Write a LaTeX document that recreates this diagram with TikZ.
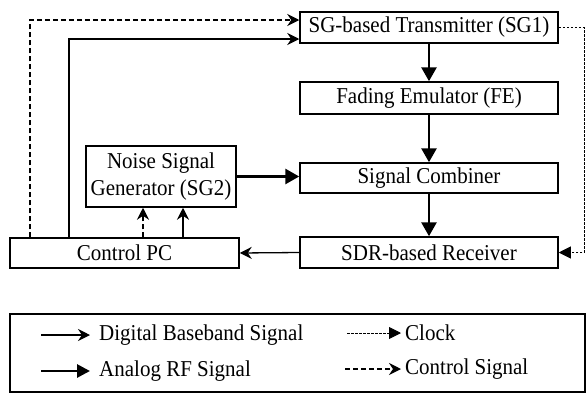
\documentclass[tikz,border=0pt]{standalone}
\usepackage{fontspec}
\usepackage{graphicx}
\setmainfont{Liberation Serif}
\usetikzlibrary{arrows.meta,calc}
% text set slightly taller than the font's natural proportions
\newcommand\tallt[1]{\scalebox{1}[1.08]{#1}}
\begin{document}
\begin{tikzpicture}[x=1pt,y=-1pt,
  font=\fontsize{21}{25.5}\selectfont,
  block/.style={draw,line width=1.5pt,inner sep=0pt,align=center},
  dig/.style={line width=1.3pt,-{Stealth[length=12pt,width=12pt,inset=4pt]}},
  rf/.style={line width=2.8pt,-{Triangle[length=14pt,width=15pt]}},
  ctrl/.style={line width=1.3pt,dash pattern=on 5pt off 3pt,-{Stealth[length=12pt,width=12pt,inset=4pt]}},
  clk/.style={line width=0.9pt,dash pattern=on 2.5pt off 1.5pt,-{Triangle[length=12pt,width=12pt]}},
  legtext/.style={anchor=west,inner sep=0pt}]
\useasboundingbox (0,0) rectangle (586,394);

% signal chain
\node[block,minimum width=258pt,minimum height=31pt] (sg1) at (429,27.5) {\tallt{SG-based Transmitter (SG1)}};
\node[block,minimum width=258pt,minimum height=32pt] (fe)  at (429,98) {\tallt{Fading Emulator (FE)}};
\node[block,minimum width=258pt,minimum height=30pt] (sc)  at (429,178) {\tallt{Signal Combiner}};
\node[block,minimum width=258pt,minimum height=31pt] (rx)  at (429,252.5) {\tallt{SDR-based Receiver}};

% noise source and controller
\node[block,minimum width=150pt,minimum height=61pt] (nsg) at (161,176.5)
  {\tallt{\begin{tabular}{@{}c@{}}Noise Signal\\Generator (SG2)\end{tabular}}};
\node[block,minimum width=229pt,minimum height=30pt] (pc)  at (124.5,253) {\tallt{Control PC}};

% RF path
\draw[rf] (sg1) -- (fe);
\draw[rf] (fe) -- (sc);
\draw[rf] (sc) -- (rx);
\draw[rf] (nsg.east) -- (nsg.east -| sc.west);

% baseband and control links
\draw[dig] (rx.west) -- (pc.east);
\coordinate (ctrlturn) at (30,20);
\coordinate (digturn) at (69,39);
\draw[ctrl] (pc.north -| ctrlturn) -- (ctrlturn) -- (sg1.west |- ctrlturn);
\draw[dig] (pc.north -| digturn) -- (digturn) -- (sg1.west |- digturn);
\coordinate (nsgctrl) at ($(nsg.south)+(-18,0)$);
\coordinate (nsgdig) at ($(nsg.south)+(22,0)$);
\draw[ctrl] (pc.north -| nsgctrl) -- (nsgctrl);
\draw[dig] (pc.north -| nsgdig) -- (nsgdig);

% reference clock
\coordinate (clkturn) at (584,28);
\draw[clk] (sg1.east) -- (sg1.east -| clkturn) -- (rx.east -| clkturn) -- (rx.east);

% legend
\node[draw,line width=1.3pt,minimum width=575pt,minimum height=78pt,inner sep=0pt] (legend) at (297.5,353) {};
\node[legtext] (l1) at (99,335) {\tallt{Digital Baseband Signal}};
\node[legtext] (l2) at (99,371) {\tallt{Analog RF Signal}};
\node[legtext] (l3) at (405,333) {\tallt{Clock}};
\node[legtext] (l4) at (405,369) {\tallt{Control Signal}};
\draw[dig] ($(l1.west)+(-58,0)$) -- ($(l1.west)+(-9,0)$);
\draw[line width=2.8pt,-{Triangle[length=13pt,width=13pt]}] ($(l2.west)+(-58,0)$) -- ($(l2.west)+(-9,0)$);
\draw[clk] ($(l3.west)+(-58,0)$) -- ($(l3.west)+(-4,0)$);
\draw[ctrl] ($(l4.west)+(-60,0)$) -- ($(l4.west)+(-4,0)$);
\end{tikzpicture}
\end{document}
